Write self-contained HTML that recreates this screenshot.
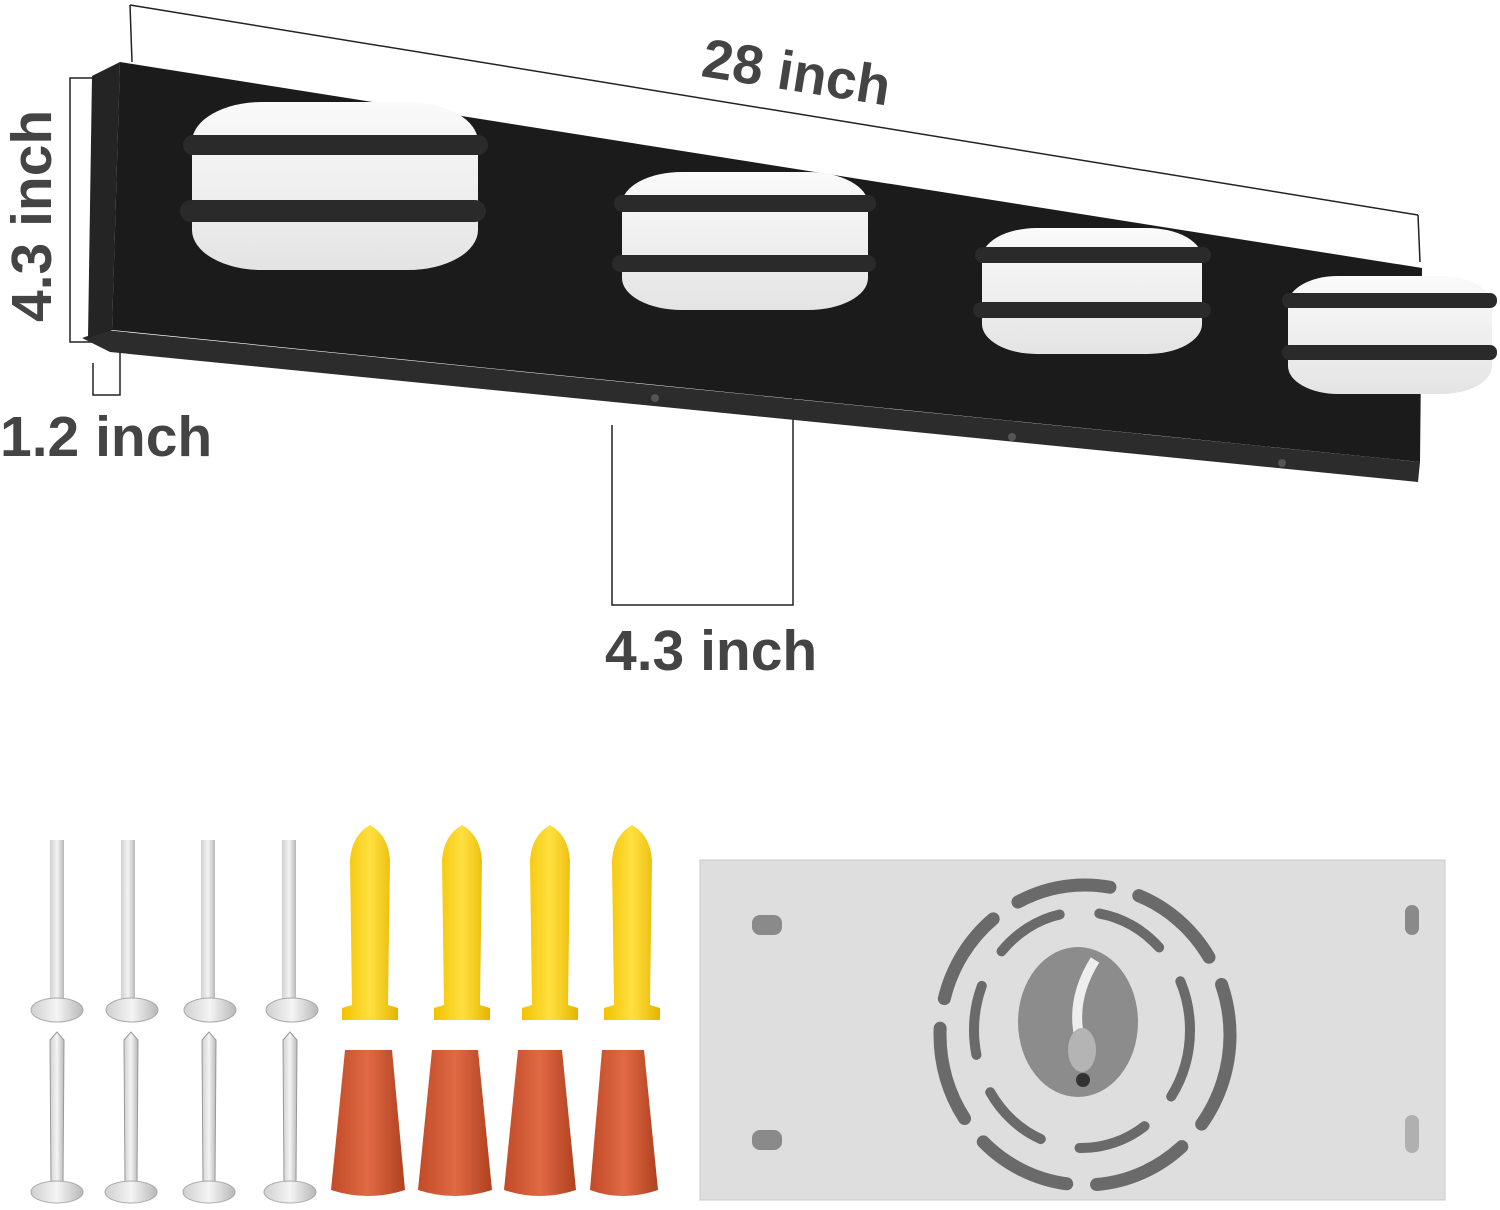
<!DOCTYPE html>
<html><head><meta charset="utf-8"><style>
html,body{margin:0;padding:0;background:#fff;}
svg{display:block;}
text{font-family:"Liberation Sans",sans-serif;font-weight:bold;fill:#444;}
</style></head><body>
<svg width="1500" height="1210" viewBox="0 0 1500 1210" xmlns="http://www.w3.org/2000/svg">
<defs>
<linearGradient id="shade" x1="0" y1="0" x2="1" y2="0">
<stop offset="0" stop-color="#d0d0d0"/><stop offset="0.5" stop-color="#f4f4f4"/><stop offset="1" stop-color="#b8b8b8"/></linearGradient>
<linearGradient id="yel" x1="0" y1="0" x2="1" y2="0">
<stop offset="0" stop-color="#f2c200"/><stop offset="0.5" stop-color="#ffe040"/><stop offset="1" stop-color="#e6b400"/></linearGradient>
<linearGradient id="red" x1="0" y1="0" x2="1" y2="0">
<stop offset="0" stop-color="#c24a28"/><stop offset="0.5" stop-color="#e06a44"/><stop offset="1" stop-color="#b0401f"/></linearGradient>
<linearGradient id="lamp" x1="0" y1="0" x2="0" y2="1">
<stop offset="0" stop-color="#fafafa"/><stop offset="1" stop-color="#e4e4e4"/></linearGradient>
</defs>

<g stroke="#222" stroke-width="1.5" fill="none">
<line x1="130" y1="5" x2="1418" y2="215"/>
<line x1="130" y1="5" x2="132" y2="62"/>
<line x1="1418" y1="215" x2="1420" y2="262"/>
<polyline points="96,78 70,78 70,342 96,342"/>
<polyline points="93,363 93,395 120,395 120,352"/>
<polyline points="612,425 612,605 793,605 793,210"/>
</g>
<text x="0" y="0" font-size="55" transform="translate(700,76) rotate(9)">28 inch</text>
<text x="0" y="0" font-size="57" transform="translate(51,322) rotate(-90)">4.3 inch</text>
<text x="0" y="456" font-size="57">1.2 inch</text>
<text x="605" y="670" font-size="57">4.3 inch</text>

<polygon points="82,338 105,330 1420,462 1418,482 110,352" fill="#2c2c2c"/>
<polygon points="92,76 120,62 112,330 88,338" fill="#242424"/>
<polygon points="120,62 1422,268 1420,462 112,330" fill="#1b1b1b"/>
<circle cx="655" cy="398" r="4" fill="#555"/>
<circle cx="1012" cy="437" r="4" fill="#555"/>
<circle cx="1282" cy="463" r="4" fill="#555"/>

<g>
<rect x="192" y="102" width="286" height="168" rx="70" ry="40" fill="url(#lamp)"/>
<rect x="183" y="135" width="305" height="20" rx="10" fill="#2a2a2a"/>
<rect x="180" y="200" width="306" height="22" rx="11" fill="#2a2a2a"/>
</g>
<g>
<rect x="622" y="172" width="246" height="138" rx="60" ry="32" fill="url(#lamp)"/>
<rect x="614" y="195" width="262" height="17" rx="8" fill="#2a2a2a"/>
<rect x="612" y="255" width="264" height="17" rx="8" fill="#2a2a2a"/>
</g>
<g>
<rect x="982" y="228" width="220" height="126" rx="55" ry="30" fill="url(#lamp)"/>
<rect x="975" y="247" width="236" height="16" rx="8" fill="#2a2a2a"/>
<rect x="973" y="302" width="238" height="16" rx="8" fill="#2a2a2a"/>
</g>
<g>
<rect x="1288" y="276" width="204" height="118" rx="50" ry="28" fill="url(#lamp)"/>
<rect x="1282" y="293" width="215" height="15" rx="7" fill="#2a2a2a"/>
<rect x="1282" y="345" width="215" height="15" rx="7" fill="#2a2a2a"/>
</g>

<g>
<rect x="50" y="840" width="14" height="165" fill="url(#shade)"/>
<rect x="121" y="840" width="14" height="165" fill="url(#shade)"/>
<rect x="201" y="840" width="14" height="165" fill="url(#shade)"/>
<rect x="282" y="840" width="14" height="165" fill="url(#shade)"/>
<ellipse cx="57" cy="1010" rx="26" ry="12" fill="url(#shade)" stroke="#aaa"/>
<ellipse cx="132" cy="1010" rx="26" ry="12" fill="url(#shade)" stroke="#aaa"/>
<ellipse cx="210" cy="1010" rx="26" ry="12" fill="url(#shade)" stroke="#aaa"/>
<ellipse cx="292" cy="1010" rx="26" ry="12" fill="url(#shade)" stroke="#aaa"/>
</g>
<g>
<polygon points="50,1040 57,1032 64,1040 63,1185 51,1185" fill="url(#shade)" stroke="#999"/>
<polygon points="124,1040 131,1032 138,1040 137,1185 125,1185" fill="url(#shade)" stroke="#999"/>
<polygon points="202,1040 209,1032 216,1040 215,1185 203,1185" fill="url(#shade)" stroke="#999"/>
<polygon points="283,1040 290,1032 297,1040 296,1185 284,1185" fill="url(#shade)" stroke="#999"/>
<ellipse cx="57" cy="1192" rx="26" ry="11" fill="url(#shade)" stroke="#aaa"/>
<ellipse cx="131" cy="1192" rx="26" ry="11" fill="url(#shade)" stroke="#aaa"/>
<ellipse cx="209" cy="1192" rx="26" ry="11" fill="url(#shade)" stroke="#aaa"/>
<ellipse cx="290" cy="1192" rx="26" ry="11" fill="url(#shade)" stroke="#aaa"/>
</g>
<g fill="url(#yel)">
<path d="M370,825 Q388,835 390,860 L388,1005 L398,1008 L398,1020 L342,1020 L342,1008 L352,1005 L350,860 Q352,835 370,825Z"/>
<path d="M462,825 Q480,835 482,860 L480,1005 L490,1008 L490,1020 L434,1020 L434,1008 L444,1005 L442,860 Q444,835 462,825Z"/>
<path d="M550,825 Q568,835 570,860 L568,1005 L578,1008 L578,1020 L522,1020 L522,1008 L532,1005 L530,860 Q532,835 550,825Z"/>
<path d="M632,825 Q650,835 652,860 L650,1005 L660,1008 L660,1020 L604,1020 L604,1008 L614,1005 L612,860 Q614,835 632,825Z"/>
</g>
<g fill="url(#red)">
<path d="M345,1050 L392,1050 L405,1190 Q368,1202 331,1190Z"/>
<path d="M432,1050 L478,1050 L492,1190 Q455,1202 418,1190Z"/>
<path d="M518,1050 L562,1050 L576,1190 Q540,1202 504,1190Z"/>
<path d="M602,1050 L644,1050 L658,1190 Q622,1202 590,1190Z"/>
</g>

<rect x="700" y="860" width="745" height="340" fill="#dedede" stroke="#c8c8c8"/>
<g fill="#8a8a8a">
<rect x="752" y="915" width="30" height="20" rx="8"/>
<rect x="752" y="1130" width="30" height="20" rx="8"/>
<rect x="1405" y="905" width="14" height="30" rx="7"/>
<rect x="1405" y="1115" width="14" height="38" rx="7" fill="#b0b0b0"/>
</g>
<g fill="none" stroke="#6a6a6a" stroke-width="13" stroke-linecap="round">
<ellipse cx="1085" cy="1035" rx="145" ry="150" stroke-dasharray="95 30"/>
<ellipse cx="1082" cy="1030" rx="108" ry="118" stroke-dasharray="70 40" stroke-width="10"/>
</g>
<ellipse cx="1078" cy="1022" rx="60" ry="75" fill="#8c8c8c"/>
<path d="M1095,960 Q1070,1000 1080,1040" stroke="#eee" stroke-width="10" fill="none"/>
<ellipse cx="1082" cy="1050" rx="14" ry="22" fill="#b4b4b4"/>
<circle cx="1083" cy="1080" r="7" fill="#333"/>
</svg>
</body></html>
